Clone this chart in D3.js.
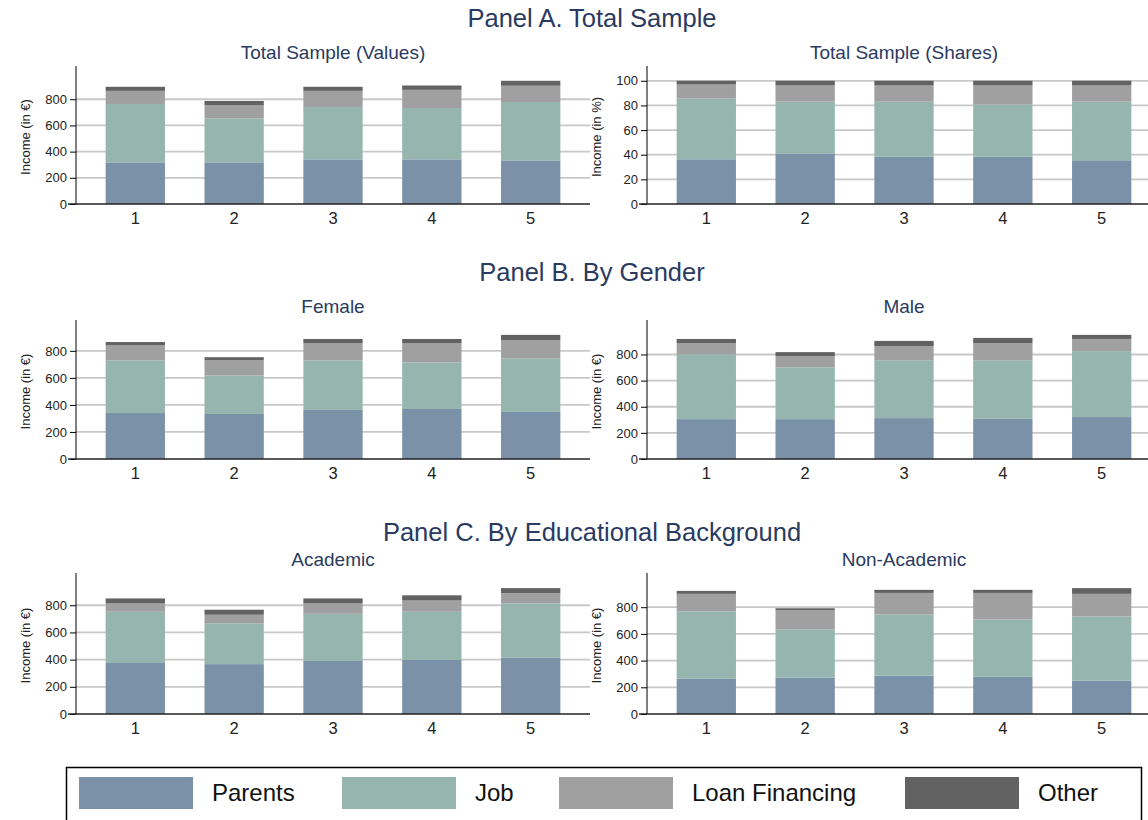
<!DOCTYPE html>
<html>
<head>
<meta charset="utf-8">
<script src="https://cdn.jsdelivr.net/npm/d3@7"></script>
<style>
  body { margin: 0; background: #fff; }
  text { font-family: "Liberation Sans", Arial, sans-serif; }
</style>
</head>
<body>
<svg id="chart" width="1148" height="820"></svg>
<script>
// categories and series
let groups = ["1", "2", "3", "4", "5"],
  sources = ["Parents", "Job", "Loan Financing", "Other"];

// Panel A values (in €)
let total_parents = [318, 318, 341, 341, 333],
  total_job = [446, 336, 400, 392, 446],
  total_loan = [100, 102, 123, 139, 124],
  total_other = [31, 31, 31, 33, 38];

// Panel A shares (in %)
let share_parents = [36.3, 41.0, 38.3, 38.3, 35.5],
  share_job = [49.2, 42.0, 44.7, 42.3, 47.5],
  share_loan = [11.5, 13.2, 13.2, 15.6, 13.2],
  share_other = [3.0, 3.8, 3.8, 3.8, 3.8];

// Panel B
let female_parents = [340, 333, 363, 370, 348],
  female_job = [390, 285, 367, 345, 397],
  female_loan = [110, 112, 128, 143, 135],
  female_other = [25, 23, 30, 30, 38];
let male_parents = [305, 305, 313, 308, 321],
  male_job = [498, 397, 443, 448, 505],
  male_loan = [85, 85, 109, 132, 93],
  male_other = [31, 31, 39, 39, 31];

// Panel C
let acad_parents = [375, 367, 390, 398, 413],
  acad_job = [377, 300, 347, 354, 402],
  acad_loan = [61, 63, 76, 83, 73],
  acad_other = [37, 37, 37, 38, 38];
let nonacad_parents = [265, 273, 288, 280, 250],
  nonacad_job = [505, 359, 459, 428, 481],
  nonacad_loan = [130, 145, 160, 199, 169],
  nonacad_other = [22, 15, 23, 23, 43];

let euro_ticks = [0, 200, 400, 600, 800],
  share_ticks = [0, 20, 40, 60, 80, 100];

let colors = ["#7b91a8", "#96b5ae", "#a0a0a0", "#626262"],
  title_color = "#2a3a60";

function rows(p, j, l, o) {
  return groups.map((g, i) => ({group: g, Parents: p[i], Job: j[i], "Loan Financing": l[i], Other: o[i]}));
}

let panels = [
  {title: "Panel A. Total Sample", ty: 27, top: 66, bottom: 204, charts: [
    {sub: "Total Sample (Values)", data: rows(total_parents, total_job, total_loan, total_other), ticks: euro_ticks, label: "Income (in €)"},
    {sub: "Total Sample (Shares)", data: rows(share_parents, share_job, share_loan, share_other), ticks: share_ticks, label: "Income (in %)"}
  ]},
  {title: "Panel B. By Gender", ty: 281, top: 320, bottom: 459, charts: [
    {sub: "Female", data: rows(female_parents, female_job, female_loan, female_other), ticks: euro_ticks, label: "Income (in €)"},
    {sub: "Male", data: rows(male_parents, male_job, male_loan, male_other), ticks: euro_ticks, label: "Income (in €)"}
  ]},
  {title: "Panel C. By Educational Background", ty: 541, top: 573, bottom: 714, charts: [
    {sub: "Academic", data: rows(acad_parents, acad_job, acad_loan, acad_other), ticks: euro_ticks, label: "Income (in €)"},
    {sub: "Non-Academic", data: rows(nonacad_parents, nonacad_job, nonacad_loan, nonacad_other), ticks: euro_ticks, label: "Income (in €)"}
  ]}
];

let columns = [
  {x0: 76, x1: 590, label_x: 30, clip: 590},
  {x0: 647, x1: 1161, label_x: 601, clip: 1148}
];

let svg = d3.select("#chart");
let stack = d3.stack().keys(sources);

function draw_chart(panel, chart, col) {
  let x = d3.scaleBand()
    .domain(groups)
    .range([col.x0, col.x1])
    .paddingInner(0.4)
    .paddingOuter(0.3);
  let max_total = d3.max(chart.data, d => d3.sum(sources, k => d[k]));
  let y = d3.scaleLinear()
    .domain([0, max_total * 1.12])
    .range([panel.bottom, panel.top]);

  let g = svg.append("g");

  // gridlines
  g.append("g")
    .selectAll("line")
    .data(chart.ticks.filter(t => t > 0)).enter()
    .append("line")
    .attr("x1", col.x0)
    .attr("x2", col.clip)
    .attr("y1", d => y(d))
    .attr("y2", d => y(d))
    .attr("stroke", "#c8c8c8")
    .attr("stroke-width", 1.8);

  // stacked bars
  g.append("g")
    .selectAll("g")
    .data(stack(chart.data)).enter()
    .append("g")
    .attr("fill", (d, i) => colors[i])
    .selectAll("rect")
    .data(d => d).enter()
    .append("rect")
    .attr("x", d => x(d.data.group))
    .attr("width", x.bandwidth())
    .attr("y", d => y(d[1]))
    .attr("height", d => y(d[0]) - y(d[1]));

  // y axis
  let ya = g.append("g")
    .attr("transform", `translate(${col.x0},0)`)
    .call(d3.axisLeft(y).tickValues(chart.ticks).tickSize(6).tickPadding(3));
  ya.select(".domain").attr("d", `M0,${panel.bottom}V${panel.top}`).attr("stroke", "#000");
  ya.selectAll(".tick line").attr("stroke", "#000");
  ya.selectAll("text").attr("font-size", 13).attr("fill", "#222");

  // x axis
  let xa = g.append("g")
    .attr("transform", `translate(0,${panel.bottom})`)
    .call(d3.axisBottom(x).tickSize(0).tickPadding(8));
  xa.select(".domain").attr("d", `M${col.x0 - 8},0H${col.clip}`).attr("stroke", "#222").attr("stroke-width", 1.4);
  xa.selectAll("text").attr("font-size", 16.5).attr("fill", "#222");

  // y label
  g.append("text")
    .attr("transform", `translate(${col.label_x},${(panel.top + panel.bottom) / 2 + 2}) rotate(-90)`)
    .attr("text-anchor", "middle")
    .attr("font-size", 13)
    .attr("fill", "#222")
    .text(chart.label);

  // subtitle
  g.append("text")
    .attr("x", (col.x0 + col.x1) / 2)
    .attr("y", panel.top - 7)
    .attr("text-anchor", "middle")
    .attr("font-size", 19)
    .attr("fill", title_color)
    .text(chart.sub);
}

panels.forEach(p => {
  svg.append("text")
    .attr("x", 592)
    .attr("y", p.ty)
    .attr("text-anchor", "middle")
    .attr("font-size", 25.5)
    .attr("fill", title_color)
    .text(p.title);
  p.charts.forEach((c, i) => draw_chart(p, c, columns[i]));
});

// legend
let legend = svg.append("g");
legend.append("rect")
  .attr("x", 66.5)
  .attr("y", 767.5)
  .attr("width", 1075)
  .attr("height", 70)
  .attr("fill", "none")
  .attr("stroke", "#000")
  .attr("stroke-width", 1.5);

let legend_x = [79, 342, 559, 905];
let items = legend.selectAll("g.item")
  .data(sources).enter()
  .append("g")
  .attr("class", "item")
  .attr("transform", (d, i) => `translate(${legend_x[i]},777)`);
items.append("rect")
  .attr("width", 114)
  .attr("height", 32)
  .attr("fill", (d, i) => colors[i]);
items.append("text")
  .attr("x", 133)
  .attr("y", 24)
  .attr("font-size", 24)
  .attr("fill", "#111")
  .text(d => d);
</script>
</body>
</html>
